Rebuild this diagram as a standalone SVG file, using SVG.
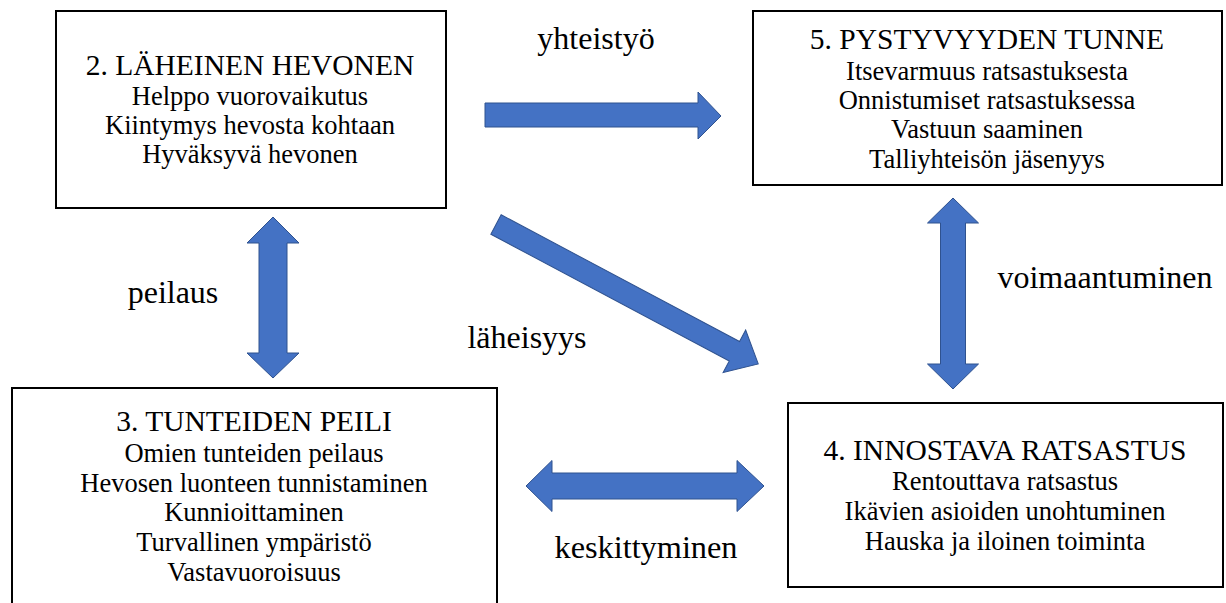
<svg xmlns="http://www.w3.org/2000/svg" width="1226" height="603" viewBox="0 0 1226 603">
  <style>
    .box { fill: #ffffff; stroke: #000000; stroke-width: 2; }
    text { fill: #000000; text-anchor: middle; }
    .title { font-size: 29.5px; }
    .item { font-size: 26.5px; }
    .label { font-size: 32px; }
    .arrow { fill: #4472C4; stroke: #2F528F; stroke-width: 1; stroke-linejoin: miter; }
  </style>
  <rect width="1226" height="603" fill="#ffffff"/>

  <g font-family="'Liberation Serif', 'DejaVu Serif', serif">
  <!-- Node 2 -->
  <g id="node-laheinen-hevonen">
    <rect class="box" x="56" y="11" width="390" height="197"/>
    <text class="title" x="250" y="75">2. LÄHEINEN HEVONEN</text>
    <text class="item" x="250" y="105">Helppo vuorovaikutus</text>
    <text class="item" x="250" y="134">Kiintymys hevosta kohtaan</text>
    <text class="item" x="250" y="163">Hyväksyvä hevonen</text>
  </g>

  <!-- Node 5 -->
  <g id="node-pystyvyyden-tunne">
    <rect class="box" x="753" y="11" width="469" height="174"/>
    <text class="title" x="987" y="49">5. PYSTYVYYDEN TUNNE</text>
    <text class="item" x="987" y="80">Itsevarmuus ratsastuksesta</text>
    <text class="item" x="987" y="109">Onnistumiset ratsastuksessa</text>
    <text class="item" x="987" y="138">Vastuun saaminen</text>
    <text class="item" x="987" y="168">Talliyhteisön jäsenyys</text>
  </g>

  <!-- Node 3 -->
  <g id="node-tunteiden-peili">
    <rect class="box" x="12" y="388" width="485" height="230"/>
    <text class="title" x="254" y="431">3. TUNTEIDEN PEILI</text>
    <text class="item" x="254" y="462">Omien tunteiden peilaus</text>
    <text class="item" x="254" y="492">Hevosen luonteen tunnistaminen</text>
    <text class="item" x="254" y="521">Kunnioittaminen</text>
    <text class="item" x="254" y="551">Turvallinen ympäristö</text>
    <text class="item" x="254" y="581">Vastavuoroisuus</text>
  </g>

  <!-- Node 4 -->
  <g id="node-innostava-ratsastus">
    <rect class="box" x="788" y="403" width="435" height="184"/>
    <text class="title" x="1005" y="460">4. INNOSTAVA RATSASTUS</text>
    <text class="item" x="1005" y="490">Rentouttava ratsastus</text>
    <text class="item" x="1005" y="520">Ikävien asioiden unohtuminen</text>
    <text class="item" x="1005" y="550">Hauska ja iloinen toiminta</text>
  </g>

  <!-- Connectors: block arrows with their labels -->
  <g id="connectors">
    <polygon class="arrow" points="485,103 698,103 698,92 721,116 698,139 698,127 485,127"/>
    <text class="label" x="596" y="49">yhteistyö</text>

    <polygon class="arrow" transform="translate(496,224.5) rotate(28)" points="0,-11 270,-11 270,-24 297,0 270,24 270,11 0,11"/>
    <text class="label" x="527" y="348">läheisyys</text>

    <polygon class="arrow" points="273,217 299,243 287,243 287,353 299,353 273,378 247,353 259,353 259,243 247,243"/>
    <text class="label" x="173" y="303">peilaus</text>

    <polygon class="arrow" points="953,198 978.5,223 965.5,223 965.5,364 978.5,364 953,389 927.5,364 940.5,364 940.5,223 927.5,223"/>
    <text class="label" x="1105" y="288">voimaantuminen</text>

    <polygon class="arrow" points="526,486 552,460.5 552,473 737,473 737,460.5 764,486 737,511.5 737,499 552,499 552,511.5"/>
    <text class="label" x="646" y="558" textLength="183" lengthAdjust="spacingAndGlyphs">keskittyminen</text>
  </g>
  </g>
</svg>
